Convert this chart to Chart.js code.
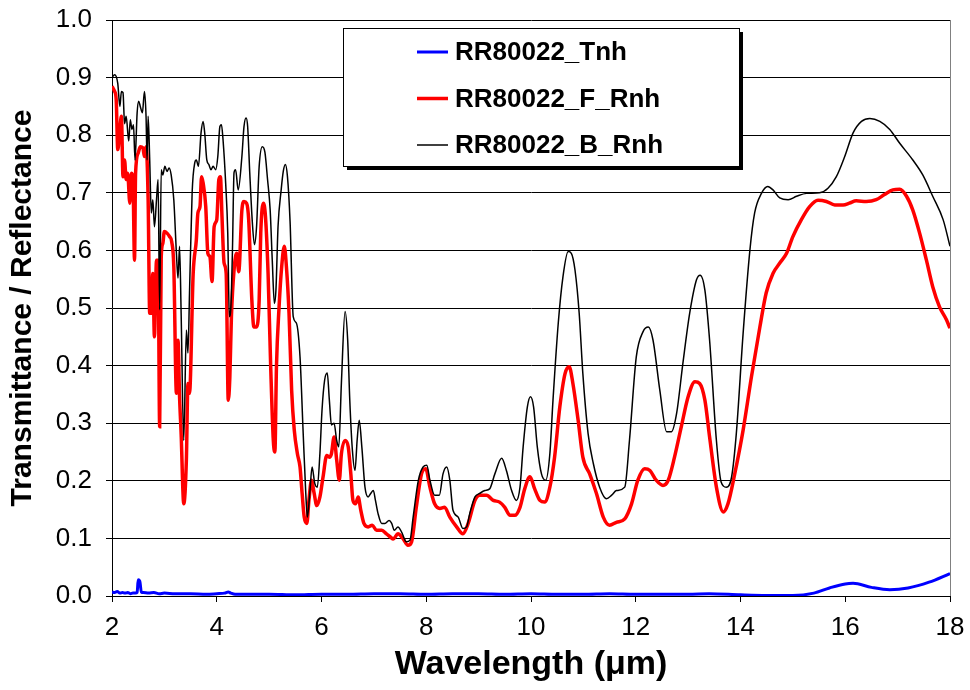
<!DOCTYPE html>
<html lang="en">
<head>
  <meta charset="UTF-8">
  <title>RR80022 spectra</title>
  <script src="https://cdn.jsdelivr.net/npm/chart.js"></script>
  <style>
    body { margin: 0; background: #fff; }
    canvas { display: block; }
  </style>
</head>
<body>
  <canvas id="spectra" width="970" height="690"></canvas>

  <script>
    // wavelength (um) / value pairs
    const tWave = [2.00,2.05,2.10,2.15,2.20,2.25,2.30,2.35,2.40,2.45,2.48,2.50,2.53,2.56,2.60,2.70,2.80,2.90,3.00,3.20,3.50,3.80,4.00,4.15,4.22,4.27,4.35,4.60,5.00,5.50,6.00,6.50,7.00,7.50,8.00,8.50,9.00,9.50,10.00,10.50,11.00,11.50,12.00,12.50,13.00,13.40,14.00,14.50,15.00,15.40,15.70,16.00,16.15,16.50,16.85,17.20,17.60,18.00];
    const tVal = [0.007,0.006,0.008,0.005,0.006,0.005,0.006,0.004,0.005,0.005,0.006,0.028,0.026,0.007,0.006,0.005,0.006,0.004,0.005,0.004,0.004,0.003,0.004,0.005,0.007,0.005,0.003,0.003,0.003,0.002,0.003,0.003,0.004,0.004,0.003,0.004,0.004,0.003,0.004,0.003,0.003,0.004,0.003,0.003,0.003,0.004,0.002,0.001,0.001,0.005,0.014,0.021,0.022,0.015,0.011,0.014,0.024,0.039];

    const fWave = [2.00,2.05,2.08,2.11,2.15,2.18,2.21,2.24,2.27,2.30,2.34,2.37,2.40,2.43,2.45,2.50,2.54,2.59,2.62,2.65,2.69,2.72,2.75,2.78,2.81,2.85,2.88,2.91,2.94,2.97,3.00,3.05,3.10,3.14,3.18,3.23,3.26,3.29,3.32,3.37,3.42,3.45,3.48,3.55,3.61,3.64,3.68,3.71,3.74,3.79,3.83,3.87,3.91,3.95,4.00,4.04,4.07,4.10,4.14,4.18,4.22,4.25,4.28,4.33,4.38,4.42,4.48,4.52,4.57,4.61,4.67,4.71,4.76,4.81,4.84,4.89,4.93,4.98,5.03,5.08,5.11,5.14,5.19,5.24,5.29,5.33,5.38,5.43,5.48,5.54,5.59,5.63,5.67,5.72,5.76,5.81,5.86,5.91,5.97,6.03,6.10,6.15,6.19,6.24,6.29,6.34,6.38,6.45,6.51,6.56,6.60,6.65,6.70,6.75,6.81,6.89,6.97,7.05,7.15,7.24,7.32,7.37,7.46,7.56,7.65,7.72,7.81,7.91,7.99,8.07,8.16,8.26,8.35,8.45,8.58,8.70,8.80,8.93,9.02,9.15,9.28,9.40,9.50,9.60,9.69,9.79,9.88,9.98,10.07,10.17,10.26,10.36,10.45,10.55,10.65,10.73,10.80,10.90,10.99,11.12,11.25,11.38,11.50,11.63,11.79,11.92,12.04,12.17,12.27,12.39,12.52,12.62,12.74,12.87,13.00,13.13,13.22,13.32,13.41,13.54,13.67,13.76,13.89,14.05,14.21,14.37,14.49,14.62,14.75,14.88,15.00,15.16,15.32,15.48,15.64,15.80,15.96,16.08,16.21,16.40,16.59,16.75,16.91,17.04,17.17,17.29,17.42,17.55,17.67,17.80,17.93,18.00];
    const fVal = [0.885,0.876,0.862,0.775,0.81,0.833,0.728,0.757,0.723,0.734,0.682,0.734,0.723,0.583,0.734,0.769,0.78,0.778,0.763,0.78,0.688,0.491,0.491,0.56,0.45,0.583,0.583,0.294,0.589,0.612,0.633,0.63,0.624,0.615,0.572,0.352,0.444,0.346,0.282,0.16,0.236,0.369,0.352,0.56,0.618,0.665,0.676,0.728,0.717,0.676,0.595,0.589,0.546,0.641,0.653,0.723,0.728,0.659,0.578,0.56,0.34,0.38,0.485,0.566,0.595,0.563,0.67,0.685,0.682,0.653,0.514,0.467,0.467,0.514,0.63,0.682,0.659,0.56,0.398,0.27,0.25,0.398,0.502,0.572,0.607,0.572,0.491,0.357,0.288,0.247,0.224,0.178,0.137,0.126,0.166,0.201,0.178,0.157,0.172,0.207,0.244,0.241,0.247,0.276,0.236,0.201,0.247,0.27,0.259,0.212,0.166,0.16,0.172,0.149,0.126,0.12,0.123,0.114,0.114,0.108,0.102,0.099,0.108,0.099,0.088,0.094,0.154,0.212,0.221,0.189,0.16,0.152,0.154,0.137,0.12,0.108,0.126,0.166,0.175,0.175,0.166,0.163,0.154,0.14,0.14,0.154,0.186,0.207,0.186,0.166,0.163,0.189,0.241,0.328,0.386,0.398,0.369,0.305,0.241,0.212,0.178,0.137,0.123,0.128,0.134,0.16,0.201,0.221,0.218,0.201,0.192,0.201,0.241,0.294,0.346,0.372,0.369,0.34,0.276,0.189,0.146,0.16,0.212,0.288,0.381,0.467,0.526,0.56,0.578,0.595,0.624,0.653,0.676,0.687,0.685,0.679,0.679,0.682,0.686,0.685,0.688,0.697,0.705,0.706,0.694,0.67,0.63,0.583,0.537,0.502,0.48,0.465];

    const bWave = [2.00,2.05,2.11,2.15,2.18,2.21,2.24,2.27,2.32,2.35,2.38,2.41,2.44,2.48,2.51,2.54,2.58,2.62,2.65,2.67,2.69,2.72,2.75,2.78,2.81,2.85,2.88,2.91,2.94,2.97,3.01,3.05,3.09,3.13,3.18,3.23,3.26,3.29,3.32,3.37,3.42,3.45,3.48,3.53,3.58,3.61,3.65,3.70,3.74,3.77,3.81,3.85,3.89,3.93,3.98,4.02,4.06,4.09,4.12,4.17,4.21,4.24,4.27,4.30,4.33,4.36,4.41,4.48,4.52,4.56,4.59,4.63,4.68,4.72,4.76,4.81,4.87,4.92,4.97,5.02,5.06,5.10,5.13,5.17,5.23,5.27,5.31,5.35,5.40,5.46,5.52,5.59,5.65,5.70,5.73,5.78,5.82,5.87,5.92,5.97,6.01,6.06,6.11,6.15,6.19,6.24,6.29,6.33,6.38,6.45,6.50,6.54,6.59,6.64,6.68,6.72,6.77,6.83,6.89,6.94,6.99,7.03,7.08,7.15,7.21,7.29,7.34,7.39,7.46,7.53,7.62,7.69,7.75,7.85,7.94,8.01,8.07,8.16,8.25,8.32,8.39,8.45,8.51,8.61,8.70,8.77,8.83,8.93,9.02,9.12,9.21,9.31,9.44,9.53,9.63,9.72,9.79,9.85,9.93,9.99,10.05,10.12,10.20,10.28,10.36,10.42,10.52,10.61,10.71,10.77,10.84,10.92,10.99,11.09,11.19,11.31,11.44,11.54,11.63,11.79,11.88,12.01,12.14,12.24,12.33,12.46,12.59,12.68,12.78,12.90,13.03,13.16,13.23,13.32,13.41,13.54,13.63,13.73,13.83,13.92,14.05,14.18,14.27,14.40,14.52,14.62,14.75,14.91,15.07,15.26,15.51,15.67,15.83,15.99,16.15,16.31,16.47,16.66,16.85,17.04,17.29,17.48,17.67,17.87,18.00];
    const bVal = [0.90,0.905,0.89,0.85,0.876,0.874,0.82,0.833,0.79,0.827,0.81,0.818,0.757,0.839,0.859,0.85,0.839,0.876,0.833,0.757,0.833,0.757,0.665,0.688,0.641,0.688,0.723,0.497,0.74,0.731,0.746,0.737,0.743,0.731,0.688,0.595,0.552,0.607,0.491,0.27,0.462,0.422,0.526,0.70,0.752,0.757,0.746,0.804,0.824,0.804,0.757,0.749,0.74,0.746,0.74,0.763,0.815,0.818,0.792,0.717,0.63,0.485,0.502,0.601,0.735,0.74,0.705,0.763,0.815,0.83,0.815,0.735,0.648,0.61,0.641,0.746,0.78,0.77,0.723,0.67,0.583,0.508,0.531,0.641,0.705,0.737,0.749,0.728,0.65,0.485,0.474,0.415,0.283,0.178,0.137,0.183,0.224,0.196,0.189,0.248,0.323,0.375,0.387,0.34,0.297,0.30,0.27,0.259,0.37,0.494,0.444,0.34,0.253,0.218,0.27,0.305,0.259,0.189,0.172,0.178,0.183,0.166,0.143,0.126,0.126,0.131,0.126,0.114,0.12,0.111,0.094,0.097,0.137,0.201,0.224,0.227,0.201,0.175,0.175,0.212,0.224,0.201,0.149,0.137,0.117,0.12,0.143,0.172,0.178,0.183,0.186,0.212,0.239,0.218,0.183,0.166,0.189,0.259,0.328,0.346,0.328,0.259,0.212,0.201,0.247,0.34,0.473,0.554,0.598,0.595,0.566,0.491,0.386,0.282,0.23,0.189,0.169,0.175,0.183,0.189,0.27,0.415,0.459,0.467,0.444,0.357,0.285,0.285,0.317,0.404,0.491,0.549,0.557,0.531,0.444,0.27,0.198,0.189,0.207,0.282,0.456,0.601,0.665,0.699,0.711,0.705,0.691,0.688,0.694,0.699,0.70,0.708,0.728,0.763,0.804,0.824,0.829,0.824,0.81,0.786,0.757,0.731,0.694,0.653,0.607];

    const xTicks = [2, 4, 6, 8, 10, 12, 14, 16, 18];
    const yTicks = [0, 0.1, 0.2, 0.3, 0.4, 0.5, 0.6, 0.7, 0.8, 0.9, 1.0];

    const FONT = "'Liberation Sans', Arial, sans-serif";

    function pairs(xs, ys) {
      return xs.map((x, i) => ({ x: x, y: ys[i] }));
    }

    // legend drawn as a framed box with a drop shadow, like the spreadsheet original
    const boxLegend = {
      id: 'boxLegend',
      afterDraw(chart) {
        const ctx = chart.ctx;
        const left = 343, top = 28, w = 396, h = 138;
        ctx.save();
        ctx.fillStyle = '#000';
        ctx.fillRect(left + 4, top + 4, w, h);
        ctx.fillStyle = '#fff';
        ctx.fillRect(left, top, w, h);
        ctx.strokeStyle = '#000';
        ctx.lineWidth = 1;
        ctx.strokeRect(left + 0.5, top + 0.5, w, h);
        ctx.font = 'bold 26px ' + FONT;
        ctx.textBaseline = 'middle';
        chart.data.datasets.forEach((ds, i) => {
          const y = 52 + i * 46.5;
          ctx.strokeStyle = ds.borderColor;
          ctx.lineWidth = ds.borderWidth;
          ctx.beginPath();
          ctx.moveTo(417, y);
          ctx.lineTo(448, y);
          ctx.stroke();
          ctx.fillStyle = '#000';
          ctx.fillText(ds.label, 455, y + 1);
        });
        ctx.restore();
      }
    };

    // grey frame line on the right of the plot area
    const rightFrame = {
      id: 'rightFrame',
      beforeDatasetsDraw(chart) {
        const a = chart.chartArea, ctx = chart.ctx;
        ctx.save();
        ctx.strokeStyle = '#808080';
        ctx.lineWidth = 1;
        ctx.beginPath();
        ctx.moveTo(Math.round(a.right) + 0.5, a.top);
        ctx.lineTo(Math.round(a.right) + 0.5, a.bottom);
        ctx.stroke();
        ctx.restore();
      }
    };

    new Chart(document.getElementById('spectra'), {
      type: 'line',
      data: {
        datasets: [
          { label: 'RR80022_Tnh', data: pairs(tWave, tVal), borderColor: '#0000ff', borderWidth: 3, order: 2 },
          { label: 'RR80022_F_Rnh', data: pairs(fWave, fVal), borderColor: '#ff0000', borderWidth: 3.5, order: 1 },
          { label: 'RR80022_B_Rnh', data: pairs(bWave, bVal), borderColor: '#000000', borderWidth: 1.5, order: 0 }
        ]
      },
      options: {
        responsive: false,
        animation: false,
        layout: { padding: { left: 0, top: 20, right: 20, bottom: 0 } },
        elements: {
          point: { radius: 0 },
          line: { cubicInterpolationMode: 'monotone', fill: false }
        },
        plugins: {
          legend: { display: false },
          tooltip: { enabled: false }
        },
        scales: {
          x: {
            type: 'linear',
            min: 2,
            max: 18,
            afterBuildTicks: (s) => { s.ticks = xTicks.map(v => ({ value: v })); },
            afterFit: (s) => { s.height = 94; s.paddingLeft = 0; s.paddingRight = 0; },
            grid: { drawOnChartArea: false, tickLength: 6, color: '#000' },
            border: { color: '#000', width: 1 },
            ticks: { color: '#000', font: { family: FONT, size: 26 }, padding: 10, maxRotation: 0 },
            title: {
              display: true,
              text: 'Wavelength (μm)',
              color: '#000',
              font: { family: FONT, size: 34, weight: 'bold' },
              padding: { top: 0, bottom: 5 }
            }
          },
          y: {
            min: 0,
            max: 1,
            afterBuildTicks: (s) => { s.ticks = yTicks.map(v => ({ value: v })); },
            afterFit: (s) => { s.width = 112; s.paddingTop = 0; s.paddingBottom = 0; },
            grid: { color: '#000', tickLength: 6 },
            border: { color: '#000', width: 1 },
            ticks: {
              color: '#000',
              font: { family: FONT, size: 26 },
              padding: 14,
              callback: (v) => Number(v).toFixed(1)
            },
            title: {
              display: true,
              text: 'Transmittance / Reflectance',
              color: '#000',
              font: { family: FONT, size: 30, weight: 'bold' },
              padding: { top: 5, bottom: 0 }
            }
          }
        }
      },
      plugins: [rightFrame, boxLegend]
    });
  </script>
</body>
</html>
